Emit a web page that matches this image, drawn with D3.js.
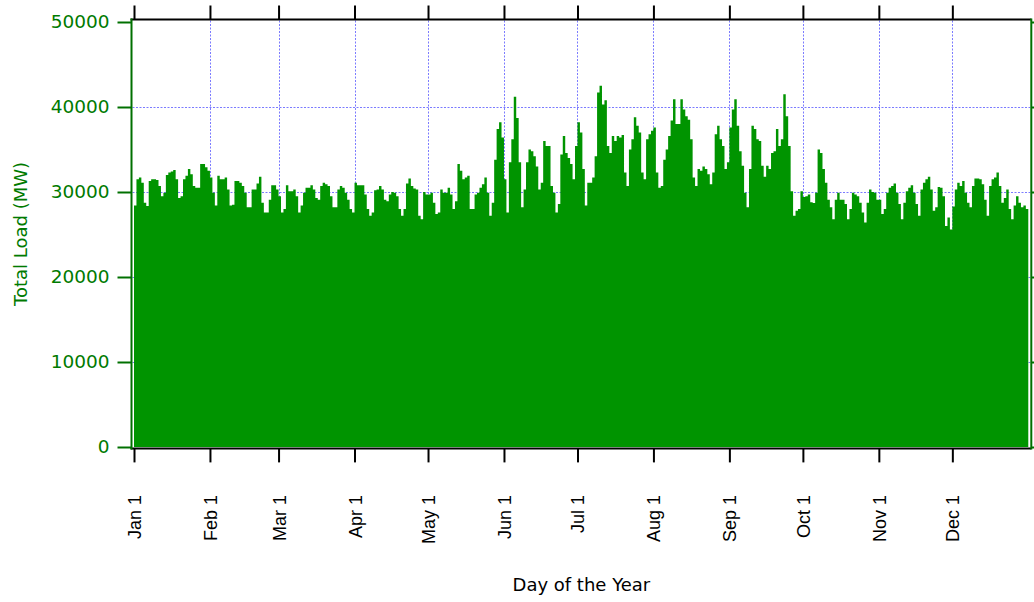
<!DOCTYPE html>
<html>
<head>
<meta charset="utf-8">
<script src="https://cdn.jsdelivr.net/npm/d3@7"></script>
<style>
  html, body { margin: 0; padding: 0; background: #ffffff; }
  svg { display: block; }
</style>
</head>
<body>
<svg id="chart" width="1034" height="602"></svg>
<script>
// ---- Data ----
const monthLabels = ["Jan 1","Feb 1","Mar 1","Apr 1","May 1","Jun 1","Jul 1","Aug 1","Sep 1","Oct 1","Nov 1","Dec 1"];
const monthStartDays = [0,31,59,90,120,151,181,212,243,273,304,334];
const yTickValues = [0,10000,20000,30000,40000,50000];
const yGridValues = [10000,20000,30000,40000];

// Daily peak total load (MW), day 0 = Jan 1
const dailyPeak = [
  28400,31500,31700,31100,28750,28360,31300,31500,31500,31400,
  30700,29500,29900,32000,32300,32400,32600,31500,29300,29500,
  31500,31900,32700,32100,30700,30500,30500,33300,33300,32900,
  32500,31700,29900,28400,31900,31500,31500,31700,30300,28400,
  28500,31300,31300,31100,30700,29900,28200,28200,30300,30300,
  31000,31800,28750,27600,27600,29100,30800,30800,30300,29500,
  27600,28000,30800,30100,30100,30300,29500,27600,28400,29900,
  30500,30500,30800,30300,29300,29100,30700,31100,30900,30700,
  29500,28200,28200,30300,30700,30500,29900,29100,28000,27600,
  31100,30800,30800,30800,29700,28000,27200,27600,30200,30300,
  30700,30300,29100,28900,29700,30000,29900,29500,28000,27200,
  28000,31000,31600,30700,30400,30300,27200,26800,30000,29700,
  29700,29900,28750,27400,27600,30300,29900,29900,30500,29700,
  28000,28900,33300,32500,31500,31700,31900,28000,28000,29700,
  29900,30500,30900,31700,29900,27200,28750,33800,37400,38200,
  36400,31500,27600,33500,36200,41200,38700,33500,28200,30300,
  33500,35000,34800,34200,33000,30300,31100,36000,35400,35400,
  30700,29900,27600,28600,34400,36600,34600,34000,33300,31500,
  35400,38200,37000,32700,28400,31100,31100,31700,34200,41700,
  42500,40300,40800,35400,34600,36600,36000,36600,36400,36700,
  32300,30700,35000,36200,38800,37800,37000,32300,31500,36200,
  36800,37200,37600,32300,30500,30700,33800,35000,36600,38400,
  40900,38000,38000,40900,39700,38900,38500,36200,31700,30700,
  32700,32500,33000,32700,32100,30900,32300,36800,37800,36200,
  35400,32700,33500,37600,39700,40900,37800,34800,33100,29900,
  28200,32700,37800,37400,36200,36000,33100,31800,33100,32700,
  34600,34800,37400,35400,36200,41500,38900,35400,30100,27200,
  27800,28000,30100,29400,29500,29700,28800,28700,29900,35000,
  34600,32700,31100,29100,28200,26800,29100,29900,29100,29100,
  28600,26800,28000,29900,29700,29500,28750,27600,26400,28750,
  30300,30000,29900,29100,29100,27400,28000,29900,30500,30700,
  31000,29900,28600,26800,28750,30100,30500,30800,29900,28600,
  27200,30300,31100,31500,31800,30300,27800,28200,30600,30500,
  29500,26000,27000,25600,28300,30300,31100,30700,31300,29900,
  28750,28200,30700,31600,31600,31500,30900,29100,27200,30700,
  31500,31700,32300,30700,28750,29300,30300,28000,26800,28400,
  29500,28750,28200,28400,28000
];
const daysInYear = 365;

// ---- Layout ----
const frame = { left: 131.5, right: 1031.3, top: 19.5, bottom: 448.4 };
const fillColor = "#009400";
const axisGreen = "#007000";
const labelGreen = "#007a00";
const gridColor = "#7b7bff";

const svg = d3.select("#chart");
svg.append("rect").attr("width",1034).attr("height",602).attr("fill","#ffffff");

const x = d3.scaleLinear().domain([0, daysInYear]).range([134, 1028.3]);
const y = d3.scaleLinear().domain([0, 50000]).range([447, 22]);

// ---- Grid ----
const grid = svg.append("g");
grid.selectAll("line.h").data(yGridValues).join("line")
  .attr("x1", frame.left + 1).attr("x2", frame.right - 1)
  .attr("y1", d => Math.round(y(d)) + 0.5).attr("y2", d => Math.round(y(d)) + 0.5)
  .attr("stroke", gridColor).attr("stroke-width", 1).attr("stroke-dasharray", "2,1.5");
grid.selectAll("line.v").data(monthStartDays.slice(1)).join("line")
  .attr("x1", d => Math.round(x(d)) + 0.5).attr("x2", d => Math.round(x(d)) + 0.5)
  .attr("y1", frame.top + 1).attr("y2", frame.bottom - 1)
  .attr("stroke", gridColor).attr("stroke-width", 1).attr("stroke-dasharray", "2,1.5");

// ---- Area ----
const pts = dailyPeak.map((v, i) => ({ d: i, v: v }));
pts.push({ d: daysInYear, v: dailyPeak[dailyPeak.length - 1] });
const area = d3.area()
  .x(p => x(p.d))
  .y0(y(0))
  .y1(p => y(p.v))
  .curve(d3.curveStepAfter);
svg.append("path").datum(pts).attr("d", area).attr("fill", fillColor);

// ---- Frame lines ----
svg.append("line").attr("x1", frame.left - 1).attr("x2", frame.right)
  .attr("y1", frame.top).attr("y2", frame.top).attr("stroke", "#000").attr("stroke-width", 2);
svg.append("line").attr("x1", frame.left - 1).attr("x2", frame.right)
  .attr("y1", frame.bottom).attr("y2", frame.bottom).attr("stroke", "#000").attr("stroke-width", 2);

// Bottom axis (black ticks, rotated labels)
const bottomAxis = svg.append("g").attr("transform", `translate(0,${frame.bottom})`)
  .call(d3.axisBottom(x).tickValues(monthStartDays).tickSize(14).tickFormat((d, i) => monthLabels[i]));
bottomAxis.select(".domain").remove();
bottomAxis.selectAll(".tick line").attr("stroke", "#000").attr("stroke-width", 2);
bottomAxis.selectAll(".tick text")
  .attr("x", 0).attr("y", 0).attr("dy", null)
  .attr("transform", "translate(6.5,46.5) rotate(-90)")
  .attr("text-anchor", "end")
  .attr("fill", "#000")
  .style("font-family", "'Liberation Sans', Arial, sans-serif")
  .style("font-size", "18px");

// Top axis (mirror ticks)
const topAxis = svg.append("g").attr("transform", `translate(0,${frame.top})`)
  .call(d3.axisTop(x).tickValues(monthStartDays).tickSize(14).tickFormat(""));
topAxis.select(".domain").remove();
topAxis.selectAll(".tick line").attr("stroke", "#000").attr("stroke-width", 2);

// Left axis (green)
const leftAxis = svg.append("g").attr("transform", `translate(${frame.left},0)`)
  .call(d3.axisLeft(y).tickValues(yTickValues).tickSize(14).tickPadding(8).tickFormat(d3.format("d")));
leftAxis.select(".domain").remove();
leftAxis.selectAll(".tick line").attr("stroke", axisGreen).attr("stroke-width", 2);
leftAxis.selectAll(".tick text")
  .attr("fill", labelGreen)
  .style("font-family", "'DejaVu Sans', Verdana, sans-serif")
  .style("font-size", "18.5px");
svg.append("line").attr("x1", frame.left).attr("x2", frame.left)
  .attr("y1", frame.top - 1).attr("y2", frame.bottom + 1)
  .attr("stroke", axisGreen).attr("stroke-width", 2);

// Right axis (green, mirror ticks)
const rightAxis = svg.append("g").attr("transform", `translate(${frame.right},0)`)
  .call(d3.axisRight(y).tickValues(yTickValues).tickSize(10).tickFormat(""));
rightAxis.select(".domain").remove();
rightAxis.selectAll(".tick line").attr("stroke", axisGreen).attr("stroke-width", 2);
svg.append("line").attr("x1", frame.right).attr("x2", frame.right)
  .attr("y1", frame.top - 1).attr("y2", frame.bottom + 1)
  .attr("stroke", axisGreen).attr("stroke-width", 2);

// ---- Titles ----
svg.append("text")
  .attr("transform", `translate(27,${(frame.top + frame.bottom) / 2}) rotate(-90)`)
  .attr("text-anchor", "middle")
  .attr("fill", labelGreen)
  .style("font-family", "'DejaVu Sans', Verdana, sans-serif")
  .style("font-size", "18px")
  .text("Total Load (MW)");

svg.append("text")
  .attr("x", (frame.left + frame.right) / 2).attr("y", 591)
  .attr("text-anchor", "middle")
  .attr("fill", "#000")
  .style("font-family", "'DejaVu Sans', Verdana, sans-serif")
  .style("font-size", "18px")
  .text("Day of the Year");
</script>
</body>
</html>
